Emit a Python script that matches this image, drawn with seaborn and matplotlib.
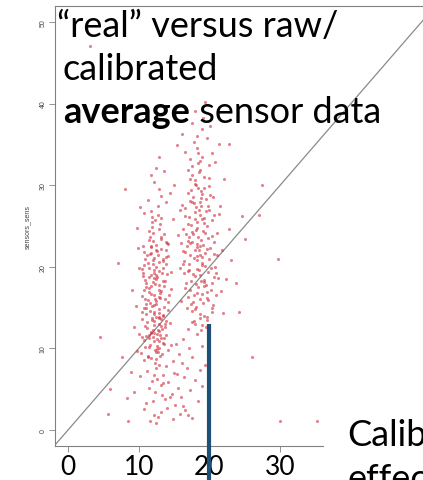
import numpy as np
import pandas as pd
import matplotlib
matplotlib.use("Agg")
import matplotlib.pyplot as plt
import seaborn as sns
from matplotlib.patches import Rectangle

# ---- sensor readings: "real" value vs. averaged sensor value ----
# cluster around real ~ 12
real_a = [12.1, 11.4, 13.2, 12.7, 10.9, 13.8, 12.3, 11.8, 12.9, 13.5,
          11.2, 12.5, 13.9, 12.0, 11.6, 14.3, 12.8, 10.6, 13.1, 12.4,
          13.6, 11.9, 12.2, 10.8, 13.3, 12.6, 11.5, 14.0, 12.9, 11.1,
          12.0, 13.7, 11.7, 12.8, 10.5, 13.0, 12.3, 11.3, 14.5, 12.7,
          11.6, 12.9, 13.4, 10.9, 12.2, 11.8, 13.9, 12.5, 11.0, 13.2,
          12.4, 11.3, 13.6, 12.1, 14.2, 10.7, 12.9, 11.9, 13.1, 12.6,
          11.4, 12.7, 10.4, 13.5, 12.2, 11.7, 14.1, 12.0, 13.0, 11.2,
          12.8, 13.8, 11.5, 12.3, 10.8, 13.3, 12.6, 11.9, 14.4, 12.1,
          11.0, 12.4, 13.6, 11.6, 12.9, 10.6, 13.1, 12.2, 11.8, 13.7,
          12.5, 11.3, 13.9, 12.0, 10.9, 12.7, 11.7, 13.4, 12.3, 14.0,
          11.9, 12.6, 13.2, 10.7, 12.1, 11.4, 13.7, 12.8, 11.1, 12.4,
          13.0, 11.8, 12.2, 14.6, 11.5, 12.9, 10.5, 13.5, 12.0, 11.2,
          12.7, 13.3, 11.6, 12.4, 10.9, 13.8, 12.1, 11.3, 12.9, 13.6,
          11.0, 12.3, 13.1, 11.7, 12.6, 14.2, 10.8, 12.0, 13.4, 11.5,
          12.2, 11.9, 13.0, 12.8, 10.6, 13.7, 11.4, 12.5, 14.1, 12.1,
          12.6, 11.1, 13.5, 12.0, 11.8, 10.4, 13.2, 12.4, 11.6, 12.9,
          11.3, 12.8, 13.9, 10.8, 12.1, 14.4, 11.7, 13.2, 12.5, 15.0,
          10.2, 13.6, 11.9, 12.9, 14.8,
          9.6, 10.1, 9.3, 9.9, 10.3, 9.0, 9.7, 10.0]
sens_a = [14.2, 18.7, 11.3, 21.5, 16.0, 13.4, 9.8, 22.6, 17.1, 19.9,
          12.5, 15.8, 20.3, 24.1, 10.4, 16.6, 13.0, 19.2, 23.4, 8.7,
          15.1, 13.7, 19.6, 21.8, 9.3, 11.2, 17.4, 22.9, 14.8, 15.5,
          20.8, 18.2, 11.9, 16.3, 13.6, 25.2, 17.9, 9.1, 19.4, 12.2,
          23.7, 10.1, 14.0, 18.4, 21.1, 16.7, 11.6, 19.0, 14.9, 22.2,
          7.6, 20.5, 17.6, 13.3, 22.8, 11.0, 24.6, 15.2, 12.7, 18.8,
          16.9, 26.3, 14.4, 20.9, 10.9, 12.0, 15.7, 18.1, 16.2, 21.4,
          13.9, 23.0, 19.8, 8.2, 17.2, 12.4, 21.9, 24.9, 13.1, 16.5,
          11.5, 20.0, 10.6, 14.6, 19.5, 22.5, 17.0, 12.9, 26.8, 16.0,
          18.5, 15.9, 21.2, 23.2, 12.8, 9.6, 17.7, 14.1, 25.7, 19.1,
          13.5, 11.8, 23.6, 20.2, 15.3, 10.2, 12.6, 20.6, 18.0, 22.0,
          16.8, 21.7, 6.8, 17.3, 24.4, 14.3, 19.7, 10.7, 11.4, 13.2,
          27.4, 19.3, 15.6, 13.8, 21.0, 22.1, 18.6, 8.9, 12.1, 24.0,
          17.5, 16.1, 13.6, 22.4, 10.3, 14.7, 15.0, 20.4, 20.7, 11.3,
          14.5, 25.5, 11.7, 17.8, 18.9, 13.0, 23.3, 22.7, 21.3, 19.3,
          9.9, 14.2, 18.3, 12.3, 19.0, 16.4, 26.0, 15.4, 21.6, 13.7,
          28.2, 29.5, 27.9, 26.6, 30.4, 29.0, 31.2, 28.7, 32.1, 30.0,
          27.3, 31.8, 26.1, 33.5, 25.8,
          15.2, 19.8, 12.6, 22.3, 9.4, 17.1, 24.8, 11.8]

# cluster around real ~ 18.5
real_b = [18.2, 19.5, 17.1, 20.3, 18.8, 16.4, 19.0, 17.7, 20.9, 18.5,
          17.4, 19.8, 18.1, 16.9, 20.6, 19.2, 17.9, 18.7, 15.8, 20.1,
          18.9, 17.2, 19.6, 18.4, 16.6, 20.4, 17.8, 19.3, 18.0, 21.2,
          16.2, 18.6, 19.9, 17.5, 20.7, 18.3, 19.1, 17.0, 18.8, 16.8,
          19.4, 17.6, 18.1, 20.2, 16.5, 19.7, 18.5, 17.3, 21.0, 18.9,
          17.8, 18.4, 19.2, 16.1, 20.5, 17.4, 18.7, 19.8, 17.0, 18.2,
          20.0, 18.6, 17.1, 19.3, 18.0, 16.7, 19.6, 17.7, 20.8, 18.3,
          17.5, 19.0, 18.8, 16.3, 20.3, 17.9, 19.5, 18.4, 15.6, 19.1,
          18.1, 17.3, 19.8, 18.6, 16.9, 20.6, 17.6, 19.2, 18.9, 16.0,
          19.4, 18.2, 17.0, 20.1, 18.7, 17.5, 19.7, 16.6, 18.4, 21.4,
          17.2, 18.8, 19.5, 16.4, 18.0, 20.4, 17.8, 19.0, 18.5, 17.4,
          20.2, 18.3, 19.3, 17.7, 16.8, 19.9, 18.1, 17.1, 20.7, 18.6,
          18.0, 19.6, 17.4, 18.9, 16.2, 20.0, 17.9, 19.1, 18.4, 15.9,
          19.2, 17.6, 18.7, 20.5, 17.0, 18.2, 19.8, 16.5, 18.5, 17.3,
          18.8, 17.8, 19.4, 16.7, 20.3, 18.1, 17.5, 19.0, 21.1, 18.6,
          17.1, 19.7, 18.3, 16.0, 19.3, 18.0, 20.9, 17.7, 18.8, 19.5,
          18.3, 19.6, 17.2, 20.4, 18.9, 16.6, 19.1, 17.8, 20.8, 18.0,
          15.4, 19.9, 17.5, 18.6, 21.3, 16.1, 19.4, 18.2, 17.0, 20.1,
          21.8, 22.3, 21.5, 22.7, 21.9, 22.1, 21.6, 23.0]
sens_b = [22.4, 17.8, 26.1, 14.5, 29.3, 20.7, 12.9, 24.0, 19.2, 31.6,
          18.3, 27.5, 15.1, 23.2, 21.6, 25.4, 30.2, 13.7, 19.9, 28.8,
          20.5, 28.1, 16.2, 32.7, 17.4, 23.8, 21.1, 14.0, 26.7, 18.6,
          24.6, 19.0, 30.9, 13.2, 26.3, 16.8, 22.7, 19.5, 28.4, 14.9,
          20.1, 31.3, 24.5, 17.2, 21.8, 13.5, 27.0, 22.9, 24.2, 33.4,
          16.5, 29.7, 18.4, 27.6, 15.3, 25.1, 21.4, 23.5, 12.4, 19.7,
          29.9, 14.2, 20.3, 26.0, 22.1, 18.0, 16.9, 28.6, 20.0, 24.8,
          23.0, 21.2, 12.2, 20.4, 25.7, 30.6, 28.3, 17.5, 23.9, 15.6,
          27.3, 17.1, 19.4, 22.6, 29.1, 18.7, 14.6, 31.0, 25.9, 15.8,
          24.1, 20.8, 25.3, 22.3, 16.1, 32.3, 13.9, 27.2, 23.6, 26.5,
          21.5, 18.2, 26.8, 19.3, 13.0, 15.0, 27.8, 28.9, 22.0, 15.4,
          19.8, 25.5, 17.6, 19.1, 22.5, 21.0, 30.0, 23.7, 23.1, 26.4,
          14.8, 22.2, 29.4, 20.2, 21.9, 26.9, 18.9, 24.4, 33.9, 27.0,
          18.1, 24.3, 28.0, 28.5, 16.3, 22.8, 15.9, 26.2, 19.6, 30.8,
          23.3, 13.4, 21.7, 24.0, 18.0, 17.9, 27.9, 16.7, 21.4, 31.9,
          19.6, 25.0, 21.3, 22.9, 29.6, 25.8, 16.5, 15.7, 27.5, 12.6,
          34.6, 35.8, 33.2, 33.9, 36.9, 34.1, 38.2, 35.3, 32.8, 39.1,
          34.9, 32.5, 37.6, 33.0, 35.1, 36.3, 40.2, 36.0, 31.9, 37.3,
          22.0, 18.5, 27.4, 24.6, 14.3, 30.7, 17.0, 20.8]

# low readings spread under both clusters
real_low = [11.5, 12.8, 13.6, 10.9, 14.2, 12.1, 15.3, 13.0, 16.2, 11.8,
            14.8, 12.4, 17.1, 13.9, 10.4, 15.7, 18.2, 12.9, 14.5, 16.8,
            11.2, 13.4, 17.6, 15.0, 12.6, 19.0, 14.1, 10.7, 16.4, 13.2,
            18.7, 11.9, 15.5, 12.3, 17.9, 14.7, 9.8, 16.0, 13.7, 19.4,
            12.0, 15.2, 11.4, 17.3, 14.0, 8.9, 16.6, 13.1, 18.4, 10.2,
            15.8, 12.7, 14.4, 11.0, 17.0, 13.5, 9.4, 16.3, 12.2, 18.9,
            7.6, 14.9, 10.8, 15.4, 13.3, 8.3, 17.5, 11.6, 16.1, 12.5]
sens_low = [11.7, 10.9, 11.3, 10.2, 9.8, 11.9, 10.6, 9.1, 11.1, 8.8,
            8.4, 9.5, 10.0, 7.9, 11.4, 9.3, 11.8, 8.0, 10.4, 7.6,
            7.2, 6.8, 8.9, 7.0, 6.3, 10.3, 5.9, 8.6, 6.5, 5.5,
            7.4, 6.0, 5.2, 4.7, 6.1, 4.4, 9.7, 4.0, 3.8, 8.0,
            3.5, 3.1, 5.1, 4.9, 2.7, 7.1, 2.4, 2.2, 3.6, 6.6,
            2.0, 1.6, 4.1, 3.3, 1.9, 5.7, 4.6, 3.0, 1.8, 5.4,
            9.0, 1.3, 2.6, 6.9, 4.3, 3.9, 1.5, 1.1, 8.2, 0.8]

# isolated readings
real_out = [4.5, 5.9, 5.7, 8.5, 30.0, 35.2, 29.7, 27.4, 24.6, 27.0,
            25.0, 23.8, 24.2, 3.1, 7.0, 8.0, 22.8, 26.0]
sens_out = [11.4, 5.0, 2.0, 1.1, 1.1, 1.1, 21.0, 30.0, 26.2, 26.3,
            23.4, 18.0, 14.5, 47.0, 20.5, 29.5, 35.0, 9.0]

x_ticks = [0, 10, 20, 30]
y_ticks = [0, 10, 20, 30, 40, 50]
marker_x = 20       # highlighted real value
marker_top = 13     # upper end of the highlight bar

sns.set_theme(style="white")
plt.rcParams["font.family"] = ["Lato", "DejaVu Sans"]

W, H = 423, 481
fig = plt.figure(figsize=(W / 100, H / 100), dpi=100)
ax = fig.add_axes([55 / W, 1 - 447 / H, 380.7 / W, 440 / H])

df = pd.DataFrame({
    "real": np.concatenate([real_a, real_b, real_low, real_out]),
    "sensors_sens": np.concatenate([sens_a, sens_b, sens_low, sens_out]),
})
sns.scatterplot(data=df, x="real", y="sensors_sens", ax=ax, s=5,
                color="#d0303f", alpha=0.6, linewidth=0, zorder=3)

ax.set_xlim(-1.84, 52)
ax.set_ylim(-1.96, 51.96)
ax.axline((0, 0), slope=1, color="#8a8a8a", lw=0.9, zorder=2)

for side in ["left", "bottom", "top", "right"]:
    ax.spines[side].set_color("#808080")
    ax.spines[side].set_linewidth(0.8)

ax.set_yticks(y_ticks)
ax.set_yticklabels([str(v) for v in y_ticks], rotation=90, va="center",
                   fontsize=5, color="#444444", family="Liberation Sans")
ax.set_xticks(x_ticks)
ax.set_xticklabels([str(v) for v in x_ticks], fontsize=19, color="black")
ax.tick_params(axis="both", which="both", direction="out", length=4,
               width=0.6, color="#808080", left=True, bottom=True)
ax.tick_params(axis="y", pad=2)
ax.tick_params(axis="x", pad=2)
ax.set_xlabel("")
ax.set_ylabel("sensors_sens", fontsize=5, color="#444444",
              family="Liberation Sans", labelpad=6)

# highlight bar at real = 20
ax.plot([marker_x, marker_x], [marker_top, -12], color="#1f4e79", lw=3.0,
        solid_capstyle="butt", clip_on=False, zorder=6)

# caption block, top left
def px(x, y):
    return x / W, 1 - y / H

fs = 26
fig.text(*px(57, 37), "\u201creal\u201d versus raw/", fontsize=fs,
         va="baseline", ha="left", color="black")
fig.text(*px(63, 80), "calibrated", fontsize=fs, va="baseline",
         ha="left", color="black")
t_bold = fig.text(*px(63, 123), "average", fontsize=fs, va="baseline",
                  ha="left", color="black", weight="bold")
ax.annotate(" sensor data", xy=(1, 0), xycoords=t_bold, fontsize=fs,
            va="bottom", ha="left", color="black", annotation_clip=False)

# note at bottom right (runs past the right edge)
fig.patches.append(Rectangle(px(324, 481), (W - 324) / W, 70 / H,
                             transform=fig.transFigure, facecolor="white",
                             edgecolor="none", zorder=10))
fig.text(*px(347, 446), "Calibration", fontsize=fs, va="baseline",
         ha="left", color="black", zorder=11)
fig.text(*px(347, 490), "effect", fontsize=fs, va="baseline",
         ha="left", color="black", zorder=11)

fig.savefig("out.png", dpi=100)
